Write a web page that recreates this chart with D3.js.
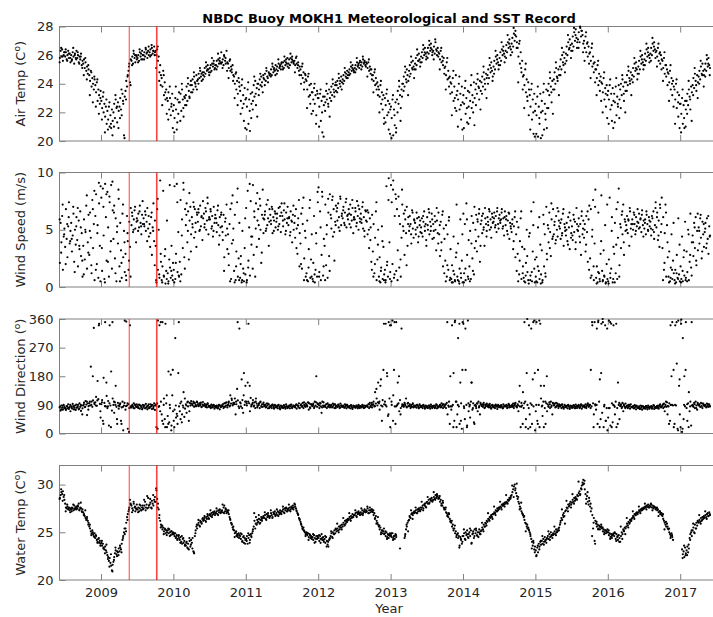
<!DOCTYPE html>
<html>
<head>
<meta charset="utf-8">
<script src="https://cdn.jsdelivr.net/npm/d3@7"></script>
<style>
  body { margin: 0; background: #fff; }
  svg { display: block; font-family: "DejaVu Sans", sans-serif; }
</style>
</head>
<body>
<svg id="chart" width="713" height="617"></svg>
<script>
// record runs month by month from June 2008:
// main arrays hold 8 samples per month, the *Extra arrays 4 more per month
const startYear = 2008, startMonth = 6;

const years = [2009, 2010, 2011, 2012, 2013, 2014, 2015, 2016, 2017];
const markerDates = [2009.39, 2009.77];

const airTicks = [20, 22, 24, 26, 28];
const speedTicks = [0, 5, 10];
const dirTicks = [0, 90, 180, 270, 360];
const waterTicks = [20, 25, 30];

const airTemp = [
  // 2008 Jun-Dec
  26.1,25.8,26.3,25.9,26.4,25.6,26.0,26.2, 25.9,26.2,25.7,26.0,26.3,25.8,26.1,25.5, 26.0,25.7,26.2,25.9,25.4,26.1,25.8,26.3, 25.8,26.0,25.5,25.9,25.7,26.1,25.3,25.6, 25.4,25.7,25.1,25.5,24.9,25.2,24.7,25.0, 24.6,24.2,24.9,23.8,24.4,24.0,23.6,24.3, 23.9,23.4,24.1,22.8,23.6,23.2,22.6,23.5,
  // 2009
  22.8,22.3,23.1,22.0,22.6,21.7,22.4,21.2, 22.1,21.5,22.4,21.0,21.8,20.9,22.2,21.4, 22.0,22.6,21.6,22.9,22.3,21.3,22.7,22.1, 22.4,23.0,22.2,21.8,23.3,22.6,20.4,23.1, 23.5,24.2,23.8,24.6,24.9,25.4,24.1,25.7, 25.6,25.9,25.4,26.1,25.8,25.5,26.0,25.7, 25.8,26.0,25.6,26.2,25.9,25.7,26.3,26.0, 26.0,26.2,25.9,26.4,26.1,25.8,26.3,26.0, 26.2,26.4,26.0,26.5,26.1,26.3,26.6,26.2, 26.3,26.0,26.4,25.6,25.9,24.8,25.3,24.6, 24.4,23.8,24.9,23.2,24.1,22.9,23.6,23.0, 22.8,23.4,22.2,23.0,21.8,22.6,23.3,22.1,
  // 2010
  22.5,21.6,23.0,22.2,20.8,22.9,21.9,23.4, 22.7,23.3,22.1,23.6,22.9,21.7,23.1,22.5, 23.2,23.8,22.8,24.0,23.5,23.0,23.9,23.4, 23.9,24.3,23.6,24.5,24.1,23.8,24.6,24.2, 24.3,24.7,24.4,24.9,24.5,24.2,24.8,24.6, 24.8,25.1,24.7,25.2,24.9,25.3,25.0,24.6, 25.1,25.3,24.9,25.4,25.2,25.6,25.0,25.3, 25.3,25.6,25.2,25.7,25.4,25.8,25.5,26.2, 25.5,25.7,25.3,25.9,25.6,25.4,26.3,25.5, 25.4,25.1,25.6,24.9,25.2,24.8,25.3,24.6, 24.5,24.0,24.7,23.6,24.2,23.3,24.4,23.8, 23.5,22.8,23.9,22.3,23.2,21.4,23.7,22.9,
  // 2011
  23.0,22.4,23.6,21.2,22.9,20.7,23.3,22.6, 23.4,22.8,23.9,23.1,24.2,22.5,23.7,24.0, 24.0,23.6,24.3,23.9,24.5,24.1,23.4,24.4, 24.3,24.7,24.2,24.9,24.5,24.1,24.8,24.6, 24.7,25.0,24.6,25.2,24.8,25.1,24.9,25.3, 25.0,25.2,24.9,25.4,25.1,25.3,25.0,25.5, 25.2,25.5,25.1,25.6,25.3,25.7,25.4,25.2, 25.4,25.7,25.3,25.8,25.5,25.9,25.6,25.4, 25.6,25.3,25.8,25.4,25.1,25.5,24.9,25.2, 25.0,24.6,25.2,24.4,24.8,24.1,24.7,24.3, 24.2,23.6,24.5,23.1,23.9,22.6,24.0,23.4, 23.4,22.9,23.7,22.6,23.2,21.8,23.5,23.0,
  // 2012
  23.0,22.4,23.3,21.4,22.8,20.6,23.1,22.5, 23.1,22.7,23.5,22.9,23.3,22.4,23.6,23.0, 23.4,23.8,23.2,24.0,23.6,23.1,23.9,23.5, 23.9,24.2,23.7,24.4,24.0,23.8,24.5,24.1, 24.3,24.6,24.2,24.8,24.5,24.4,24.9,24.6, 24.8,25.0,24.7,25.2,24.9,25.3,25.0,24.8, 25.1,25.3,25.0,25.5,25.2,25.4,25.1,25.6, 25.3,25.5,25.2,25.7,25.4,25.6,25.3,25.5, 25.4,25.1,25.5,24.9,25.2,24.7,25.0,24.6, 24.6,24.2,24.8,23.9,24.4,23.6,24.1,23.8, 23.6,23.1,23.9,22.6,23.4,22.2,23.2,21.6, 23.0,22.5,23.3,21.8,22.8,20.8,22.6,22.2,
  // 2013
  22.4,21.6,22.9,20.4,22.2,21.1,22.7,20.9, 22.9,23.5,22.6,23.8,23.2,22.3,23.6,24.0, 24.0,24.5,23.8,24.8,24.3,25.0,24.6,24.2, 24.9,25.3,24.7,25.5,25.1,25.6,25.2,25.0, 25.4,25.8,25.3,26.0,25.6,26.1,25.7,25.5, 25.9,26.2,25.8,26.4,26.0,26.5,26.1,25.9, 26.2,26.5,26.1,26.7,26.3,26.8,26.4,26.2, 26.3,26.6,26.1,26.9,26.4,26.0,26.5,26.2, 26.1,25.7,26.3,25.5,25.9,25.3,25.8,25.1, 25.2,24.6,25.5,24.3,24.9,23.8,24.5,24.1, 24.0,23.4,24.4,22.8,23.8,22.3,24.6,23.2, 23.5,22.9,24.0,22.2,23.3,21.5,23.8,22.7,
  // 2014
  23.2,22.6,23.7,21.9,23.0,21.3,23.5,22.4, 23.4,22.8,23.9,22.3,23.2,22.0,24.1,23.0, 23.6,24.0,23.3,24.3,23.8,22.9,24.2,23.5, 24.1,24.5,23.8,24.8,24.3,23.6,24.7,24.4, 24.6,25.0,24.4,25.3,24.8,25.5,24.9,24.5, 25.2,25.6,25.0,25.9,25.4,26.0,25.5,25.3, 25.8,26.2,25.6,26.4,26.0,26.6,26.1,25.9, 26.3,26.7,26.2,26.9,26.5,27.1,26.6,26.4, 26.8,27.2,26.6,27.5,27.0,27.7,27.3,26.9, 26.5,25.9,26.8,25.4,26.2,24.8,25.6,24.5, 24.6,23.9,25.0,23.4,24.3,22.8,24.1,23.6, 23.2,22.4,23.6,21.5,22.9,20.5,23.3,22.1,
  // 2015
  22.6,21.8,23.1,20.3,22.4,21.2,23.3,22.0, 22.8,22.1,23.4,20.8,22.6,21.5,23.6,22.3, 23.5,24.0,23.2,24.4,23.8,22.7,24.2,23.6, 24.3,24.8,24.0,25.1,24.5,24.2,25.0,24.6, 25.2,25.7,25.0,26.0,25.5,26.2,25.8,25.4, 26.1,26.6,26.0,26.9,26.4,27.1,26.7,26.3, 26.8,27.3,26.6,27.6,27.0,27.8,27.2,26.9, 27.1,27.6,26.9,27.9,27.3,27.7,27.4,26.8, 27.0,26.5,27.3,26.2,26.8,25.9,26.6,26.1, 26.2,25.6,26.5,25.2,25.9,24.8,25.5,25.0, 25.0,24.4,25.3,23.9,24.7,23.5,24.5,24.1, 24.0,23.4,24.4,22.9,23.7,22.4,23.9,23.2,
  // 2016
  23.5,22.9,23.9,22.2,23.3,21.4,23.7,22.8, 23.3,22.7,23.8,21.8,23.1,22.4,23.9,22.9, 23.6,24.0,23.2,24.3,23.8,22.8,24.1,23.5, 24.1,24.6,23.9,24.9,24.4,24.0,24.8,24.3, 24.6,25.1,24.5,25.4,24.9,25.5,25.0,24.7, 25.2,25.6,25.0,25.9,25.4,26.0,25.5,25.3, 25.7,26.1,25.6,26.4,25.9,26.5,26.0,25.8, 26.1,26.5,26.0,26.8,26.3,26.9,26.4,26.2, 26.3,25.9,26.5,25.6,26.1,25.4,26.0,25.7, 25.6,25.1,25.8,24.7,25.3,24.5,25.0,24.8, 24.7,24.1,24.9,23.6,24.4,23.2,24.2,23.8, 23.6,22.9,24.0,22.3,23.4,21.7,23.2,22.6,
  // 2017 Jan-May
  22.6,21.9,23.0,21.2,22.5,20.9,22.8,22.2, 22.8,23.3,22.5,23.6,23.1,22.2,23.8,23.4, 23.9,24.4,23.7,24.7,24.2,23.5,24.6,24.1, 24.5,24.9,24.3,25.2,24.7,25.4,24.9,24.6, 25.0,25.4,24.9,25.7,25.2,25.8,25.3,25.1
];

const airTempExtra = [
  // 2008 Jun-Dec
  25.5,26.5,25.9,26.2, 26.4,25.6,26.1,25.8, 25.6,26.5,26.0,25.7, 26.2,25.4,25.9,25.1, 24.6,25.8,24.3,25.3, 23.2,24.8,22.7,24.5, 22.4,24.3,21.9,23.0,
  // 2009
  21.5,23.4,20.6,22.9, 20.8,22.7,21.2,20.4, 21.0,23.2,22.4,20.9, 21.6,23.6,22.8,20.2, 22.9,24.5,25.2,23.9, 25.3,26.3,26.0,25.9, 25.5,26.4,26.1,25.7, 25.7,26.5,26.2,26.6, 25.9,26.7,26.3,26.0, 25.1,26.6,24.2,23.9, 22.5,24.6,23.4,21.9, 21.5,23.8,22.4,20.9,
  // 2010
  20.6,23.8,21.3,22.7, 21.4,24.0,22.3,23.0, 22.5,24.4,23.1,24.2, 23.4,24.8,24.0,23.6, 24.0,25.1,24.7,24.3, 24.5,25.5,25.0,24.8, 24.8,25.8,25.4,25.1, 25.0,26.1,25.6,25.4, 25.1,26.0,25.8,24.9, 24.4,25.7,25.0,24.2, 23.0,24.8,22.5,24.1, 21.9,24.3,22.6,20.9,
  // 2011
  20.8,24.1,22.1,21.6, 22.2,24.5,23.3,21.7, 23.2,24.7,23.8,24.6, 23.9,25.1,24.4,24.7, 24.5,25.4,25.0,24.6, 24.7,25.7,25.2,25.4, 25.0,25.9,25.5,25.8, 25.1,26.1,25.7,25.5, 24.8,25.9,25.3,24.6, 24.0,25.4,23.6,24.6, 22.3,24.7,23.2,21.9, 22.1,24.0,21.2,23.3,
  // 2012
  21.0,23.6,22.0,20.3, 22.1,24.0,22.6,21.7, 22.8,24.3,23.4,24.1, 23.4,24.7,24.2,23.6, 24.0,25.1,24.7,24.4, 24.6,25.5,25.1,24.9, 24.8,25.8,25.3,25.5, 25.0,25.9,25.5,25.2, 24.5,25.7,25.0,24.3, 23.4,25.0,24.0,23.2, 22.0,24.2,22.9,21.2, 21.3,23.6,22.0,20.5,
  // 2013
  20.2,23.2,21.8,20.6, 22.0,24.2,21.4,23.1, 23.5,25.2,24.1,23.2, 24.5,25.9,25.0,24.4, 25.0,26.4,25.6,25.2, 25.5,26.7,26.2,25.7, 25.8,27.0,26.5,26.0, 25.7,27.1,26.3,25.9, 25.0,26.5,25.6,24.7, 23.6,25.8,24.4,23.3, 21.8,24.9,23.0,22.1, 21.0,24.5,22.5,20.8,
  // 2014
  20.9,24.2,22.3,21.2, 21.6,24.6,22.7,21.1, 22.5,24.7,23.7,22.2, 23.3,25.2,24.0,23.0, 24.0,25.8,25.1,24.2, 24.7,26.3,25.7,25.0, 25.3,26.9,26.3,25.5, 25.8,27.4,26.8,26.0, 26.2,27.9,27.4,26.5, 24.1,27.0,25.1,23.6, 22.3,25.4,23.1,21.8, 20.8,24.0,22.0,20.3,
  // 2015
  20.5,23.8,21.6,20.2, 20.4,24.0,21.9,20.9, 22.3,24.8,23.4,21.9, 23.6,25.5,24.4,23.2, 24.6,26.5,25.3,24.8, 25.6,27.4,26.5,25.8, 26.3,27.9,27.4,26.5, 26.5,28.0,27.7,26.2, 25.6,27.6,26.9,25.4, 24.4,26.8,25.4,24.1, 23.2,25.6,24.2,22.8, 22.0,24.8,23.3,21.6,
  // 2016
  21.2,24.3,22.5,20.9, 21.3,24.4,22.6,21.6, 22.3,24.6,23.3,22.0, 23.5,25.2,24.2,23.2, 24.1,25.8,25.1,24.3, 24.7,26.3,25.7,25.0, 25.3,26.8,26.2,25.5, 25.6,27.2,26.6,25.8, 25.2,26.8,26.2,25.0, 24.2,26.2,25.3,23.9, 22.8,25.3,24.0,22.4, 21.2,24.3,22.7,20.9,
  // 2017 Jan-May
  20.6,23.6,21.6,21.0, 21.9,24.2,22.9,21.4, 23.2,25.1,23.9,23.0, 24.0,25.6,24.6,23.8, 24.5,26.0,25.4,24.6
];

const windSpeed = [
  // 2008 Jun-Dec
  4.8,2.1,5.6,3.9,6.2,1.5,4.4,5.1, 3.5,6.8,4.2,2.6,5.3,7.4,3.8,4.9, 5.6,3.1,4.5,6.4,2.2,5.0,3.7,6.1, 4.1,1.8,5.8,3.3,6.6,2.7,4.7,0.9, 3.6,5.9,2.4,4.8,7.1,1.6,3.9,6.3, 2.8,6.5,4.3,1.2,7.6,3.4,5.5,0.6, 6.2,8.1,2.0,5.4,0.8,7.3,3.6,8.8,
  // 2009
  7.8,1.4,8.6,4.5,0.7,9.0,6.1,2.3, 8.3,5.2,0.9,7.4,3.1,8.9,1.6,6.7, 4.2,7.1,2.5,6.0,0.5,5.3,3.8,7.7, 1.8,5.6,3.2,0.8,6.4,2.6,4.9,1.3, 2.9,0.6,6.2,4.0,1.5,5.7,3.5,6.9, 5.4,6.2,4.8,5.9,6.7,5.1,3.9,6.0, 5.8,6.4,5.2,7.1,5.6,4.6,6.3,5.5, 6.0,5.3,6.6,4.9,5.7,6.9,5.1,4.4, 5.5,4.7,6.1,2.8,5.2,7.3,4.0,5.8, 3.6,0.4,6.8,1.5,5.0,0.8,9.3,2.2, 0.6,1.8,8.4,0.9,2.7,0.3,1.4,5.8, 1.2,0.5,2.4,1.7,0.8,3.6,1.0,2.1,
  // 2010
  1.5,8.8,0.7,2.9,9.0,1.3,4.8,0.9, 2.2,7.6,1.1,5.9,3.4,8.5,2.6,6.8, 5.4,7.3,3.9,6.6,2.4,5.8,7.0,4.6, 6.1,5.2,7.4,4.3,6.8,5.6,3.5,6.3, 5.7,6.5,4.9,7.1,5.3,6.2,4.1,6.0, 6.4,5.5,6.9,5.0,5.8,7.3,4.6,6.1, 5.9,6.6,5.1,6.2,4.4,7.0,5.6,6.3, 6.0,4.8,6.7,5.4,3.7,6.1,5.2,6.5, 5.3,4.1,6.3,2.6,5.7,4.5,7.2,3.3, 4.6,1.9,5.5,6.8,0.7,3.8,8.0,5.1, 1.4,6.3,0.6,3.1,7.4,0.9,2.5,5.6, 0.8,2.7,0.4,4.9,1.6,0.5,3.4,1.1,
  // 2011
  6.9,0.6,8.4,2.3,5.2,1.0,7.5,3.7, 4.4,8.9,2.8,6.1,0.9,7.3,3.5,5.8, 6.8,4.2,7.7,5.0,2.1,6.3,8.5,4.7, 5.9,6.6,4.9,7.2,5.4,6.0,3.6,6.8, 6.3,5.5,7.0,4.7,6.1,5.8,6.6,5.2, 5.7,6.4,5.0,6.9,5.5,6.2,4.8,7.3, 6.2,5.3,6.7,5.9,4.6,6.5,5.6,7.0, 5.4,6.1,4.5,6.6,5.8,3.9,6.3,5.0, 5.6,4.3,6.8,5.1,2.9,6.0,7.6,4.7, 3.8,6.4,1.6,5.5,7.8,2.5,4.9,0.9, 1.2,5.8,0.5,3.3,6.9,0.8,2.4,4.6, 0.7,2.1,6.2,0.4,1.5,3.8,0.9,7.4,
  // 2012
  8.7,1.3,6.6,0.6,2.8,7.9,1.0,4.2, 3.6,7.2,1.9,5.4,0.8,6.5,2.7,8.1, 6.3,5.1,7.6,4.4,6.8,2.3,5.7,7.1, 6.6,5.8,7.3,6.1,4.9,7.7,5.4,6.4, 6.0,7.0,5.6,6.5,7.4,5.2,6.2,5.9, 6.8,5.5,7.2,6.3,5.8,6.9,4.7,6.1, 5.9,6.6,5.3,7.5,6.2,5.0,6.8,5.7, 6.4,5.6,7.0,5.1,6.1,4.4,6.7,5.8, 5.7,4.6,6.5,3.4,6.0,5.2,2.2,6.3, 3.1,5.5,1.2,4.3,6.6,0.6,2.4,5.0, 0.9,2.6,0.4,1.7,5.3,0.7,3.5,1.1, 1.5,0.6,8.8,2.2,0.9,9.5,3.9,1.3,
  // 2013
  8.9,7.4,2.0,9.3,0.8,6.2,8.1,1.4, 6.8,3.2,7.9,1.7,5.5,0.9,4.3,7.2, 5.3,6.4,2.8,5.9,4.7,7.0,3.6,6.1, 4.9,6.2,5.5,3.8,6.7,5.1,4.3,5.8, 5.6,4.6,6.5,5.2,3.9,6.1,5.4,4.8, 5.2,6.0,4.4,5.7,6.6,4.9,5.5,3.6, 6.1,5.0,6.8,4.6,5.7,5.3,6.4,4.2, 5.5,4.3,6.2,5.0,3.2,5.8,4.7,6.5, 4.6,2.7,5.7,3.9,6.3,1.8,5.1,4.2, 2.3,5.4,0.9,4.6,1.5,6.1,0.6,3.3, 0.7,1.9,0.4,4.4,1.1,0.5,2.6,7.2, 0.9,3.8,0.5,1.6,5.9,0.8,2.3,0.4,
  // 2014
  6.4,1.2,5.5,0.6,7.3,2.8,0.9,4.1, 1.8,4.9,0.7,6.2,2.5,5.6,1.1,3.4, 5.0,6.3,3.1,5.7,4.4,6.8,2.2,5.5, 5.8,4.7,6.4,5.2,3.6,6.0,5.5,4.9, 6.1,5.4,6.8,5.0,5.9,4.3,6.4,5.6, 5.7,6.5,5.2,6.2,4.8,6.9,5.5,6.0, 6.3,5.6,5.9,6.8,5.1,6.0,4.5,6.6, 5.4,6.2,4.9,5.8,6.5,4.2,5.6,5.1, 4.8,5.9,3.3,5.3,6.1,2.6,4.6,5.7, 2.9,5.2,1.1,4.0,6.0,0.7,3.5,1.8, 0.8,3.3,0.4,2.1,5.0,1.3,0.6,4.4, 4.7,1.0,6.6,0.5,3.1,7.4,1.6,2.4,
  // 2015
  0.9,2.6,0.4,5.2,1.4,0.7,3.7,1.1, 3.2,0.6,6.3,1.8,4.6,0.9,7.0,2.4, 5.4,3.9,6.5,4.8,2.7,5.9,4.2,6.8, 4.6,5.7,3.8,6.2,5.0,4.4,6.6,5.3, 5.1,4.2,5.9,4.7,6.4,3.6,5.5,4.9, 4.5,5.6,4.0,6.1,5.2,3.3,5.8,4.7, 5.3,4.1,6.3,4.8,5.7,3.9,6.9,5.0, 4.9,6.0,4.4,5.5,2.8,6.6,4.6,5.8, 4.3,5.5,3.1,6.2,4.8,2.2,5.9,7.1, 2.5,6.8,1.0,5.0,7.6,0.6,3.8,8.5, 0.8,1.8,0.4,6.5,1.2,0.5,2.9,8.0, 1.4,0.6,3.2,0.9,5.4,0.4,2.0,0.7,
  // 2016
  0.5,2.4,7.8,0.8,1.6,6.1,0.4,3.5, 2.9,5.6,1.2,6.8,0.7,4.3,8.6,1.9, 5.5,3.4,6.3,4.6,7.2,2.8,5.9,4.9, 5.4,6.2,4.7,5.8,3.6,6.6,5.1,4.4, 5.9,5.0,6.5,5.5,4.6,6.1,5.3,6.8, 5.6,6.4,5.2,6.0,4.8,6.7,5.4,5.8, 5.1,5.9,4.6,6.3,5.5,4.9,6.1,5.3, 5.7,4.5,6.2,5.0,6.6,4.2,5.4,7.4, 5.2,6.5,4.1,5.8,3.5,6.9,4.8,7.8, 3.4,6.1,1.5,4.7,7.2,0.9,5.4,2.6, 0.9,3.1,0.5,1.7,4.6,0.7,2.3,1.2, 0.6,1.5,0.4,2.8,0.8,6.0,1.1,0.5,
  // 2017 Jan-May
  1.8,0.7,4.4,0.5,2.6,1.0,5.7,0.8, 3.1,1.3,5.0,0.6,2.2,6.4,1.7,3.9, 4.5,2.7,5.6,3.4,6.1,1.9,4.9,3.2, 5.2,3.8,6.0,4.3,2.5,5.7,4.6,3.5, 4.8,5.6,3.4,6.0,4.2,2.9,5.3,4.5
];

const windSpeedExtra = [
  // 2008 Jun-Dec
  5.9,3.0,7.2,4.6, 2.0,5.5,6.1,4.0, 4.2,7.0,1.3,5.3, 6.9,3.6,5.2,2.3, 1.1,5.0,8.0,3.0, 4.9,1.9,6.8,8.4, 1.5,4.7,9.1,0.5,
  // 2009
  3.4,7.0,0.4,8.1, 2.2,7.9,4.0,9.2, 6.5,1.2,4.8,8.5, 0.5,2.1,7.2,3.9, 1.0,4.7,2.3,0.9, 6.5,5.0,7.0,5.7, 4.9,6.6,5.3,7.5, 5.5,6.3,4.0,6.2, 3.5,6.5,4.9,1.9, 0.6,7.7,1.1,2.9, 0.4,1.0,3.3,0.7, 0.3,8.9,1.4,0.6,
  // 2010
  0.4,2.1,7.4,1.0, 0.5,4.5,9.1,1.6, 6.3,4.9,8.2,3.1, 5.5,7.0,4.8,6.5, 6.8,5.0,6.1,7.5, 5.2,6.6,7.8,5.9, 6.8,5.3,4.9,6.0, 5.6,7.1,4.5,6.3, 4.8,1.4,6.0,5.1, 2.9,0.5,7.3,4.1, 0.4,1.8,8.6,0.6, 2.0,0.6,1.2,6.0,
  // 2011
  0.4,1.7,9.0,4.4, 1.6,6.6,5.1,8.2, 5.4,7.1,3.0,6.0, 6.3,5.1,7.6,5.7, 5.8,6.8,4.9,6.4, 6.0,5.3,7.0,6.5, 5.8,7.3,4.9,6.0, 6.0,4.8,5.7,7.1, 6.2,3.4,5.4,1.8, 2.0,6.9,0.6,4.3, 0.6,1.7,7.6,0.9, 0.5,1.1,4.7,8.3,
  // 2012
  0.9,5.2,8.3,1.8, 0.6,4.6,7.7,1.4, 6.0,7.9,4.8,5.4, 6.9,5.2,7.9,6.2, 6.7,5.4,7.7,6.3, 6.4,5.2,7.6,5.9, 6.9,5.6,7.1,6.0, 5.9,7.4,4.9,6.6, 6.7,5.0,4.1,1.5, 0.9,2.0,7.4,3.7, 0.5,1.4,4.0,0.6, 0.4,1.9,7.6,0.7,
  // 2013
  0.5,8.5,1.1,7.7, 0.6,6.2,2.4,8.5, 4.9,6.7,1.9,5.5, 5.3,4.6,6.5,5.9, 5.0,6.0,4.4,5.8, 4.7,6.2,5.3,4.1, 5.4,6.5,4.9,5.9, 4.9,5.7,6.9,3.8, 5.4,3.2,6.6,1.2, 0.5,1.9,5.8,0.8, 0.4,1.4,0.6,3.0, 0.6,0.3,1.2,4.6,
  // 2014
  0.4,1.6,5.9,0.7, 0.5,3.8,1.4,7.0, 4.0,5.9,6.4,3.6, 6.2,5.0,6.9,4.4, 5.7,6.6,5.2,6.1, 6.0,5.4,6.6,5.1, 5.8,6.5,5.3,6.1, 5.9,4.6,6.4,5.3, 5.5,4.0,6.6,1.4, 0.5,2.3,6.6,1.2, 0.5,1.0,2.7,0.3, 0.6,1.3,5.4,0.4,
  // 2015
  0.5,1.8,6.1,0.3, 0.4,5.5,1.2,2.9, 5.1,3.4,7.3,4.4, 5.4,4.1,6.9,5.8, 5.6,4.5,6.8,5.2, 5.0,3.7,6.5,4.3, 4.5,5.9,3.3,5.5, 5.3,3.9,6.2,5.1, 5.0,3.7,6.6,1.5, 0.8,4.4,1.8,7.0, 0.3,1.3,0.7,4.0, 0.5,1.0,0.3,7.2,
  // 2016
  0.3,1.2,4.9,0.7, 0.4,3.7,7.4,0.9, 5.2,6.6,3.9,5.7, 5.0,5.9,6.9,5.5, 5.5,6.3,4.9,5.7, 5.1,5.9,6.3,4.4, 5.6,6.6,5.0,5.8, 5.1,6.0,4.8,6.9, 6.1,4.5,7.2,5.5, 0.6,2.1,6.5,3.9, 0.4,0.8,1.5,5.6, 0.3,1.2,0.7,3.7,
  // 2017 Jan-May
  0.4,1.4,3.2,0.6, 0.5,4.6,2.8,1.0, 3.9,5.2,2.3,6.4, 4.9,6.3,3.1,5.5, 5.1,3.8,6.2,4.4
];

const windDir = [
  // 2008 Jun-Dec
  78,84,72,88,81,75,90,83, 80,74,86,79,92,77,83,70, 85,79,93,76,82,88,74,81, 82,90,76,95,84,71,88,79, 88,97,83,102,91,58,95,86, 95,88,210,100,84,104,332,92, 98,115,87,165,108,345,93,50,
  // 2009
  92,105,40,175,96,350,85,118, 80,102,25,340,88,195,72,110, 90,65,98,150,84,30,96,78, 86,95,40,82,100,10,88,355, 75,352,88,15,92,80,340,85, 82,90,85,95,79,88,84,92, 86,80,91,78,88,83,76,90, 84,88,79,93,82,76,87,80, 80,92,85,77,89,83,95,74, 88,20,95,355,84,340,70,100, 60,350,30,110,45,345,95,20, 55,195,35,80,185,25,120,70,
  // 2010
  40,75,300,50,62,30,190,85, 70,45,100,60,88,130,52,78, 92,65,98,85,40,96,88,102, 94,88,100,84,96,90,86,98, 92,86,95,89,97,83,91,88, 87,93,84,90,82,95,88,85, 85,80,91,87,83,89,78,86, 82,88,79,85,90,76,84,87, 86,92,80,95,84,88,98,82, 90,100,85,120,94,105,88,96, 96,110,60,92,140,104,85,330, 98,85,170,105,65,190,90,150,
  // 2011
  100,88,160,345,95,70,112,90, 92,105,85,98,80,110,94,87, 88,95,80,100,86,92,84,97, 86,90,82,94,88,79,92,85, 84,88,80,91,86,78,90,83, 82,87,79,90,84,76,88,81, 85,80,89,83,78,92,86,81, 83,88,79,86,91,80,84,87, 86,82,90,78,88,84,95,80, 88,92,84,96,80,90,86,94, 90,85,98,75,94,80,92,88, 86,94,80,100,88,180,84,92,
  // 2012
  92,80,96,85,65,100,88,84, 88,84,92,80,95,86,90,82, 85,90,82,94,88,80,92,86, 87,83,91,85,80,94,88,84, 84,88,81,92,86,79,90,85, 82,86,79,89,84,77,88,83, 85,81,88,83,79,90,84,86, 86,82,90,84,80,88,83,87, 88,84,92,80,96,86,90,82, 90,100,85,130,94,110,88,160, 95,75,150,88,40,105,200,92, 100,345,85,180,55,350,110,20,
  // 2013
  340,90,355,120,200,85,30,350, 88,160,95,70,105,80,330,92, 90,84,96,88,110,82,94,86, 86,92,80,89,84,95,82,88, 84,88,81,90,86,79,92,83, 83,87,80,90,85,78,88,82, 85,80,88,83,78,91,84,86, 84,88,80,86,92,79,85,82, 86,90,82,95,88,80,92,84, 90,80,96,60,88,100,30,85, 75,340,90,190,40,355,100,20, 60,300,85,30,160,95,15,350,
  // 2014
  345,80,45,200,90,25,355,70, 85,50,100,160,75,95,35,88, 90,80,95,70,100,86,60,92, 88,92,84,96,80,90,86,94, 86,90,82,93,85,78,89,84, 84,88,80,91,86,77,90,83, 86,82,89,84,79,92,85,88, 85,90,80,87,93,82,86,84, 88,84,94,80,90,96,86,82, 92,70,100,85,20,96,88,130, 80,350,100,45,190,90,15,340, 60,95,330,30,170,85,355,10,
  // 2015
  70,350,40,200,90,20,345,110, 85,55,100,150,80,30,95,70, 92,84,98,80,100,88,60,94, 88,94,82,96,86,90,80,92, 85,89,80,92,84,78,90,83, 83,87,79,90,85,77,88,81, 86,81,89,84,79,91,85,87, 84,90,80,86,92,78,85,88, 86,82,92,80,88,95,84,90, 90,200,85,340,95,60,350,88, 75,330,30,355,100,170,45,345, 65,350,20,90,340,40,80,10,
  // 2016
  50,355,80,25,345,95,35,340, 88,60,100,20,80,160,90,45, 86,92,80,96,70,88,84,94, 84,88,80,90,86,78,92,83, 82,86,79,89,84,76,87,81, 80,85,77,88,82,75,86,79, 83,78,86,81,76,88,82,84, 82,86,78,84,89,77,83,80, 84,80,88,78,86,92,82,85, 88,80,94,70,90,84,98,86, 85,95,40,90,180,350,88,20, 30,340,88,220,15,355,150,60,
  // 2017 Jan-May
  20,358,5,300,45,180,85,350, 80,40,95,130,70,100,25,88, 90,84,96,80,100,88,75,92, 88,92,84,96,86,80,94,90, 86,90,82,94,88,84,92,85
];

const windDirExtra = [
  // 2008 Jun-Dec
  82,76,87,80, 77,85,81,90, 80,86,76,91, 84,78,90,60, 92,84,100,75, 100,90,180,96, 88,104,340,70,
  // 2009
  98,30,86,160, 85,95,20,350, 100,90,45,88, 92,30,84,96, 86,95,5,82, 86,80,91,84, 82,89,85,79, 88,81,86,92, 84,90,78,88, 92,15,86,350, 40,90,20,120, 30,90,10,200,
  // 2010
  20,88,55,350, 95,35,82,110, 88,100,70,94, 90,96,86,100, 88,94,84,99, 90,86,93,84, 88,82,90,84, 86,80,89,83, 90,84,96,88, 96,88,110,92, 92,100,350,80, 95,80,120,100,
  // 2011
  94,100,150,85, 96,88,100,82, 90,98,84,92, 88,84,94,80, 86,90,82,88, 84,89,80,86, 82,88,84,80, 85,90,82,88, 84,92,88,80, 90,86,98,84, 88,96,82,92, 90,84,98,95,
  // 2012
  88,94,82,98, 86,92,84,90, 88,84,92,80, 85,90,82,88, 86,82,90,84, 84,88,80,86, 82,87,84,80, 84,88,81,86, 86,92,84,96, 92,86,140,98, 100,170,85,345, 90,190,60,340,
  // 2013
  100,40,350,85, 92,180,60,86, 88,92,84,96, 88,84,92,86, 86,90,82,88, 84,88,81,86, 82,88,85,80, 86,82,90,84, 88,84,92,86, 92,350,84,180, 85,20,350,100, 90,345,40,200,
  // 2014
  85,330,20,95, 90,160,80,30, 86,94,82,96, 86,90,82,92, 84,88,80,90, 82,87,84,88, 84,88,80,86, 86,82,90,84, 90,86,94,84, 88,150,84,30, 95,20,360,80, 20,90,350,190,
  // 2015
  90,30,355,150, 88,20,100,180, 86,92,84,96, 90,84,94,86, 86,90,82,88, 84,88,80,86, 82,88,84,80, 86,82,90,84, 88,84,92,86, 80,350,20,92, 90,350,20,190, 360,85,40,330,
  // 2016
  80,350,20,90, 84,345,30,96, 88,84,92,80, 86,82,90,84, 84,80,88,82, 82,78,86,84, 80,86,82,78, 84,80,88,82, 86,82,90,84, 92,84,100,60, 30,340,90,200, 90,350,10,170,
  // 2017 Jan-May
  345,15,90,200, 92,20,85,350, 86,92,80,96, 90,84,94,88, 88,84,92,86
];

const waterTemp = [
  // 2008 Jun-Dec
  28.1,28.6,28.9,29.2,29.0,29.3,28.7,28.4, 28.0,27.6,27.5,27.7,27.4,27.6,27.3,27.5, 27.4,27.6,27.5,27.3,27.8,27.5,27.6,27.4, 27.5,27.7,28.0,27.4,27.6,27.5,27.2,27.4, 27.1,26.9,26.7,26.5,26.3,26.6,26.2,26.0, 25.6,25.4,25.1,24.9,25.2,24.8,24.6,24.9, 24.4,24.6,24.2,24.0,24.3,23.9,24.1,23.8,
  // 2009
  23.9,23.6,23.8,23.4,23.2,23.5,23.1,22.9, 22.6,22.4,22.0,22.3,21.8,21.5,21.0,21.6, 21.9,22.4,22.8,23.1,22.7,23.0,22.9,23.3, 23.0,23.4,23.2,23.8,24.2,24.6,25.0,24.8, 25.4,26.0,26.6,26.9,27.2,27.6,28.4,27.9, 27.8,27.5,27.3,28.0,27.6,27.2,27.5,27.9, 27.4,27.6,27.2,27.5,27.8,27.3,27.6,27.4, 27.5,27.8,28.2,27.6,27.9,27.5,28.6,27.8, 27.9,28.1,27.6,28.3,28.0,27.8,28.4,28.7, 28.2,29.4,28.5,28.0,27.4,26.8,26.2,25.8, 25.6,25.3,25.5,25.1,25.4,24.9,25.2,25.0, 25.2,24.9,25.3,25.0,24.7,25.1,24.8,25.0,
  // 2010
  24.8,24.6,24.9,24.5,24.7,24.3,24.6,24.4, 24.2,24.5,24.0,23.8,24.3,23.9,24.1,23.7, 23.6,24.0,23.4,23.8,23.2,24.1,23.5,24.2, 23.9,24.4,23.0,22.8,24.6,25.2,25.6,25.4, 25.8,26.0,25.7,26.2,26.1,25.9,26.4,26.2, 26.3,26.5,26.2,26.6,26.4,26.7,26.5,26.8, 26.9,26.7,27.0,26.8,27.1,26.9,27.2,27.0, 27.0,27.2,26.9,27.3,27.1,27.4,27.0,27.2, 27.3,27.1,27.6,27.8,27.2,27.4,27.0,27.3, 27.1,26.9,26.6,26.3,26.0,25.8,25.5,25.6, 25.2,24.9,25.0,24.6,24.8,24.5,24.9,24.7, 24.6,24.3,24.8,24.1,24.5,23.9,24.4,24.2,
  // 2011
  24.3,24.6,23.8,24.4,24.7,24.2,24.8,24.5, 24.9,25.3,25.6,26.2,25.4,26.6,25.8,26.0, 26.1,26.4,25.9,26.3,26.6,26.2,26.5,26.7, 26.5,26.8,26.4,26.9,26.6,27.0,26.7,26.5, 26.7,27.0,26.8,26.6,27.1,26.9,27.2,26.8, 27.0,26.8,27.2,27.1,26.9,27.3,27.0,27.2, 27.2,27.4,27.1,27.5,27.3,27.6,27.2,27.4, 27.5,27.3,27.6,27.4,27.7,27.5,27.8,27.6, 28.0,27.7,27.5,27.2,27.0,26.8,26.5,26.3, 26.1,25.8,25.6,25.3,25.5,25.1,25.0,24.8, 25.0,24.7,24.9,24.5,24.8,24.4,24.6,24.3, 24.5,24.2,24.7,24.4,24.0,24.6,24.3,24.5,
  // 2012
  24.4,24.1,24.6,24.3,24.8,24.2,24.5,24.0, 24.3,23.9,24.5,24.1,23.7,23.5,24.2,24.4, 24.6,24.9,24.5,25.0,24.8,25.2,24.9,25.3, 25.1,25.4,25.2,25.6,25.3,25.7,25.5,25.8, 25.6,26.0,25.8,26.2,25.9,26.3,26.1,26.4, 26.3,26.6,26.4,26.7,26.5,26.9,26.6,26.8, 26.8,27.0,26.7,27.1,26.9,27.2,27.0,26.8, 27.1,26.9,27.3,27.0,27.2,27.4,27.1,27.3, 27.2,27.5,27.0,27.3,27.6,27.1,27.4,27.2, 27.1,26.8,27.0,26.5,26.7,26.2,26.0,25.8, 25.6,25.3,25.5,25.0,25.2,24.9,25.1,24.8, 24.9,24.6,25.0,24.5,24.8,24.4,24.7,24.6,
  // 2013
  24.7,24.5,24.9,24.4,24.6,24.3,24.8,24.5, null,null,null,null,23.3,null,null,null, null,null,24.4,24.8,25.3,25.6,26.0,26.2, 26.3,26.6,26.5,26.9,27.0,26.8,27.1,27.2, 27.1,27.3,27.0,27.4,27.2,27.5,27.3,27.6, 27.4,27.6,27.8,27.5,27.9,28.0,27.7,28.1, 28.2,28.0,28.4,28.1,28.5,28.3,28.6,28.2, 28.4,28.7,28.5,28.9,28.6,29.0,28.8,28.5, 28.6,28.2,28.4,28.0,27.8,28.1,27.6,27.5, 27.4,27.1,27.0,26.8,26.6,26.9,26.4,26.2, 26.0,25.6,25.8,25.2,25.4,24.9,25.1,24.7, 24.8,24.4,24.6,23.6,24.5,24.2,23.8,24.6,
  // 2014
  24.6,24.9,24.3,25.0,24.7,25.2,24.5,24.8, 25.0,24.6,25.2,23.9,24.8,25.1,24.4,25.3, 24.9,25.2,24.7,25.0,24.5,25.3,24.8,25.1, 25.2,25.5,25.3,25.8,25.6,26.0,25.9,26.2, 26.1,26.4,26.3,26.6,26.5,26.8,26.6,26.9, 26.9,27.1,27.0,27.3,27.2,27.5,27.3,27.6, 27.5,27.7,27.6,27.9,27.8,28.0,27.9,28.1, 28.0,28.2,28.1,28.4,28.3,28.6,28.5,28.8, 28.9,29.2,29.5,29.8,30.0,29.6,29.1,28.8, 28.5,28.2,28.0,27.7,27.5,27.2,27.0,26.8, 26.6,26.3,26.0,25.9,25.6,25.4,25.5,25.2, 25.0,24.6,24.3,24.0,23.6,23.9,23.2,23.5,
  // 2015
  23.1,22.6,23.4,22.9,23.8,23.5,24.0,23.7, 24.1,23.8,24.3,24.0,24.5,24.2,23.9,24.4, 24.6,24.3,24.8,24.5,25.0,24.7,24.4,24.9, 24.8,25.1,24.9,25.3,25.0,25.2,25.4,25.5, 25.8,26.2,26.5,26.3,26.8,27.0,26.7,27.2, 27.3,27.6,27.5,27.9,27.7,28.0,28.2,27.9, 28.1,28.4,28.2,28.6,28.3,28.7,28.5,28.9, 28.8,29.1,29.3,29.0,29.6,29.9,30.2,30.5, 30.1,29.5,29.0,28.5,28.8,28.2,27.9,28.3, 27.7,27.2,27.5,26.8,25.4,26.5,24.1,26.2, 25.9,25.6,25.8,25.4,25.7,25.3,25.5,25.6, 25.4,25.1,25.3,25.0,25.2,24.9,25.1,25.3,
  // 2016
  25.0,24.7,24.9,24.5,24.8,24.4,24.7,24.9, 24.6,24.9,24.3,24.8,24.5,24.2,24.7,24.4, 24.0,24.6,25.0,24.8,25.3,25.1,25.5,25.4, 25.6,25.9,25.7,26.1,25.9,26.3,26.2,26.4, 26.5,26.7,26.6,26.9,26.8,27.0,27.1,26.9, 27.1,27.3,27.2,27.4,27.3,27.5,27.4,27.6, 27.5,27.7,27.6,27.8,27.7,27.9,27.6,27.8, 27.7,27.9,27.6,27.8,27.5,27.7,27.6,27.4, 27.5,27.3,27.4,27.1,27.2,26.9,27.0,26.8, 26.7,26.4,26.2,26.0,25.8,25.6,25.9,25.4, 25.3,25.0,24.8,24.6,24.9,24.5,24.2,null, null,null,null,null,null,null,null,null,
  // 2017 Jan-May
  null,null,23.2,22.7,23.0,22.4,23.4,22.8, 23.1,23.5,22.9,23.3,24.4,24.8,25.0,24.6, 25.2,25.5,25.0,25.8,25.4,26.0,25.7,26.1, 26.0,26.3,26.1,26.5,26.2,26.6,26.4,26.7, 26.5,26.8,26.6,26.9,27.0,26.7,27.1,26.8
];

const waterTempExtra = [
  // 2008 Jun-Dec
  28.5,29.5,28.3,28.9, 27.2,27.9,27.5,27.1, 27.2,27.9,27.4,27.7, 27.8,27.3,28.1,27.1, 26.8,27.3,26.4,25.8, 25.8,24.7,25.0,24.5, 24.7,23.9,24.4,23.6,
  // 2009
  24.1,23.3,22.8,23.7, 22.2,21.4,22.7,20.9, 22.1,23.4,22.5,22.6, 23.6,22.9,24.4,25.4, 25.1,26.3,27.4,28.0, 27.1,28.2,27.7,27.4, 27.1,27.9,27.3,27.8, 28.4,27.3,28.8,27.6, 28.5,27.5,28.9,28.2, 29.6,27.6,26.5,25.5, 25.7,24.8,25.3,24.7, 25.4,24.6,25.1,24.8,
  // 2010
  24.9,24.4,24.2,24.7, 23.9,24.6,24.4,23.6, 23.9,23.3,24.4,23.7, 23.3,22.9,24.9,25.8, 26.3,25.6,26.0,26.5, 26.7,26.1,26.9,26.4, 27.3,26.6,27.1,26.8, 27.5,26.8,27.3,27.1, 27.9,27.0,27.5,27.2, 27.3,26.4,25.9,25.3, 24.5,25.1,24.7,24.4, 24.9,24.0,24.6,23.8,
  // 2011
  24.1,24.9,23.9,24.6, 25.1,27.0,25.9,26.3, 26.8,26.0,26.4,26.6, 27.1,26.3,26.8,26.6, 27.3,26.5,27.0,26.7, 27.4,26.7,27.1,26.9, 27.7,27.0,27.5,27.2, 27.9,27.2,27.6,27.4, 27.9,27.3,26.9,26.4, 25.9,25.4,25.2,24.6, 24.9,24.2,24.7,24.5, 24.8,23.9,24.3,24.6,
  // 2012
  24.7,23.9,24.4,24.2, 24.6,23.5,24.0,24.3, 25.1,24.4,24.8,25.4, 25.9,25.0,25.5,25.3, 26.5,25.7,26.1,26.3, 27.0,26.2,26.6,26.8, 27.3,26.6,27.0,26.9, 27.5,26.8,27.2,27.1, 27.7,27.0,27.3,27.4, 27.3,26.4,25.9,26.6, 25.7,24.8,25.2,25.4, 25.1,24.3,24.7,24.9,
  // 2013
  24.9,24.2,24.6,24.7, null,null,null,null, null,24.6,25.8,25.1, 26.7,27.3,26.4,27.0, 27.6,27.0,27.4,27.2, 28.2,27.3,27.8,27.6, 28.7,28.0,28.4,28.3, 29.2,28.4,28.8,28.6, 28.8,27.8,28.3,27.4, 27.6,26.7,27.0,26.1, 26.2,25.4,25.7,24.5, 24.9,23.4,24.3,24.0,
  // 2014
  25.3,24.2,24.8,24.4, 25.4,23.8,24.9,24.6, 25.4,24.6,25.0,24.8, 26.0,25.1,25.6,25.7, 27.0,26.2,26.7,26.4, 27.7,26.8,27.2,27.4, 28.2,27.4,27.8,27.7, 28.9,28.0,28.4,28.6, 29.9,28.7,29.4,30.1, 28.7,27.4,28.1,26.9, 26.7,25.1,25.8,25.3, 24.8,23.3,24.1,22.9,
  // 2015
  22.5,23.6,23.2,24.1, 24.6,23.7,24.1,24.3, 25.1,24.2,24.6,24.7, 25.6,24.7,25.1,25.2, 26.0,27.4,26.6,25.9, 28.3,27.2,27.8,27.6, 29.0,28.0,28.5,28.4, 30.3,28.9,29.5,30.0, 30.4,28.0,29.2,28.6, 28.0,24.6,26.0,23.8, 26.1,25.3,25.6,25.8, 25.5,24.8,25.2,25.0,
  // 2016
  25.2,24.3,24.6,24.8, 25.0,24.1,24.6,24.0, 25.6,24.3,25.2,24.8, 26.5,25.5,26.0,26.2, 27.2,26.4,26.8,27.0, 27.7,27.0,27.3,27.5, 28.0,27.4,27.7,27.6, 28.0,27.3,27.7,27.6, 27.6,26.7,27.2,27.0, 26.9,25.3,26.1,25.6, 25.4,24.4,24.7,null, null,null,null,null,
  // 2017 Jan-May
  null,22.3,23.6,22.6, 22.6,23.7,24.2,25.2, 25.9,24.9,25.4,26.2, 26.8,25.9,26.3,26.6, 27.2,26.4,26.7,26.9
];

const xDomain = [2008.427, 2017.467];

// decimal year of the i-th sample when a month holds n samples
function sampleDate(i, n, offset) {
  let m = Math.floor(i / n), k = i % n;
  return startYear + (startMonth - 1 + m + (k + offset) / n) / 12;
}
const toSeries = (main, extra) => main.map((v, i) => ({date: sampleDate(i, 8, 0.5), value: v}))
  .concat(extra.map((v, i) => ({date: sampleDate(i, 4, 0.6), value: v})));


class ScatterPanel {

  constructor(_config, _data) {
    this.config = {
      parentElement: _config.parentElement,
      top: _config.top,
      height: _config.height || 114.5,
      left: 59.5,
      right: 714,
      yDomain: _config.yDomain,
      yTicks: _config.yTicks,
      label: _config.label,
      showXLabels: _config.showXLabels || false
    }
    this.data = _data;
    this.initVis();
  }

  initVis() {
    let vis = this;
    let h = vis.config.height;

    vis.width = vis.config.right - vis.config.left;

    vis.chart = d3.select(vis.config.parentElement).append('g')
        .attr('transform', `translate(${vis.config.left}, ${vis.config.top})`);

    vis.xScale = d3.scaleLinear()
      .domain(xDomain)
      .range([0, vis.width]);

    vis.yScale = d3.scaleLinear()
      .domain(vis.config.yDomain)
      .range([h, 0]);

    // inside ticks on bottom, top and left, like the matlab box
    vis.xAxisBottom = d3.axisBottom(vis.xScale)
      .tickValues(years)
      .tickSize(-6)
      .tickPadding(8)
      .tickFormat(d => vis.config.showXLabels ? d : '');
    vis.xAxisTop = d3.axisTop(vis.xScale)
      .tickValues(years)
      .tickSize(-6)
      .tickFormat('');
    vis.yAxis = d3.axisLeft(vis.yScale)
      .tickValues(vis.config.yTicks)
      .tickSize(-6)
      .tickPadding(6);

    const styleAxis = g => {
      g.select('.domain').remove();
      g.selectAll('line').attr('stroke', '#808080');
      g.selectAll('text').attr('fill', '#262626').style('font-size', '13px')
        .style('font-family', '"DejaVu Sans", sans-serif');
    };

    vis.chart.append('g')
      .attr('transform', `translate(0, ${h})`)
      .call(vis.xAxisBottom)
      .call(styleAxis);
    vis.chart.append('g')
      .call(vis.xAxisTop)
      .call(styleAxis);
    vis.chart.append('g')
      .call(vis.yAxis)
      .call(styleAxis);

    vis.chart.append('rect')
      .attr('width', vis.width)
      .attr('height', h)
      .attr('fill', 'none')
      .attr('stroke', '#808080')
      .attr('stroke-width', 1);

    // y label with a raised "o" for degrees
    let lbl = vis.chart.append('text')
      .attr('transform', `translate(${24.5 - vis.config.left}, ${h / 2}) rotate(-90)`)
      .attr('text-anchor', 'middle')
      .attr('fill', '#262626')
      .style('font-size', '13px');
    vis.config.label.forEach((part, i) => {
      let t = lbl.append('tspan').text(part);
      if (i === 1) t.attr('baseline-shift', 'super').style('font-size', '9px');
    });

    vis.updateVis();
  }

  updateVis() {
    let vis = this;

    vis.chart.append('g').selectAll('circle')
      .data(vis.data.filter(d => d.value != null && d.date >= xDomain[0]))
      .join('circle')
        .attr('r', 1.1)
        .attr('cx', d => vis.xScale(d.date))
        .attr('cy', d => vis.yScale(d.value))
        .attr('fill', '#000');

    vis.chart.append('g').selectAll('line')
      .data(markerDates)
      .join('line')
        .attr('x1', d => vis.xScale(d))
        .attr('x2', d => vis.xScale(d))
        .attr('y1', 0)
        .attr('y2', vis.config.height)
        .attr('stroke', '#f00')
        .attr('stroke-opacity', 0.75)
        .attr('stroke-width', (d, i) => i === 0 ? 1 : 1.6);
  }
}

const svg = d3.select('#chart');

svg.append('text')
  .attr('x', 389)
  .attr('y', 22.5)
  .attr('text-anchor', 'middle')
  .style('font-size', '13px')
  .style('font-weight', 'bold')
  .text('NBDC Buoy MOKH1 Meteorological and SST Record');

new ScatterPanel({parentElement: '#chart', top: 26.5, yDomain: [20, 28], yTicks: airTicks,
  label: ['Air Temp (C', 'o', ')']}, toSeries(airTemp, airTempExtra));
new ScatterPanel({parentElement: '#chart', top: 172.5, yDomain: [0, 10], yTicks: speedTicks,
  label: ['Wind Speed (m/s)']}, toSeries(windSpeed, windSpeedExtra));
new ScatterPanel({parentElement: '#chart', top: 319, yDomain: [0, 360], yTicks: dirTicks,
  label: ['Wind Direction (', 'o', ')']}, toSeries(windDir, windDirExtra));
new ScatterPanel({parentElement: '#chart', top: 465.5, yDomain: [20, 32], yTicks: waterTicks,
  label: ['Water Temp (C', 'o', ')'], showXLabels: true}, toSeries(waterTemp, waterTempExtra));

svg.append('text')
  .attr('x', 389)
  .attr('y', 613)
  .attr('text-anchor', 'middle')
  .attr('fill', '#262626')
  .style('font-size', '13px')
  .text('Year');
</script>
</body>
</html>
